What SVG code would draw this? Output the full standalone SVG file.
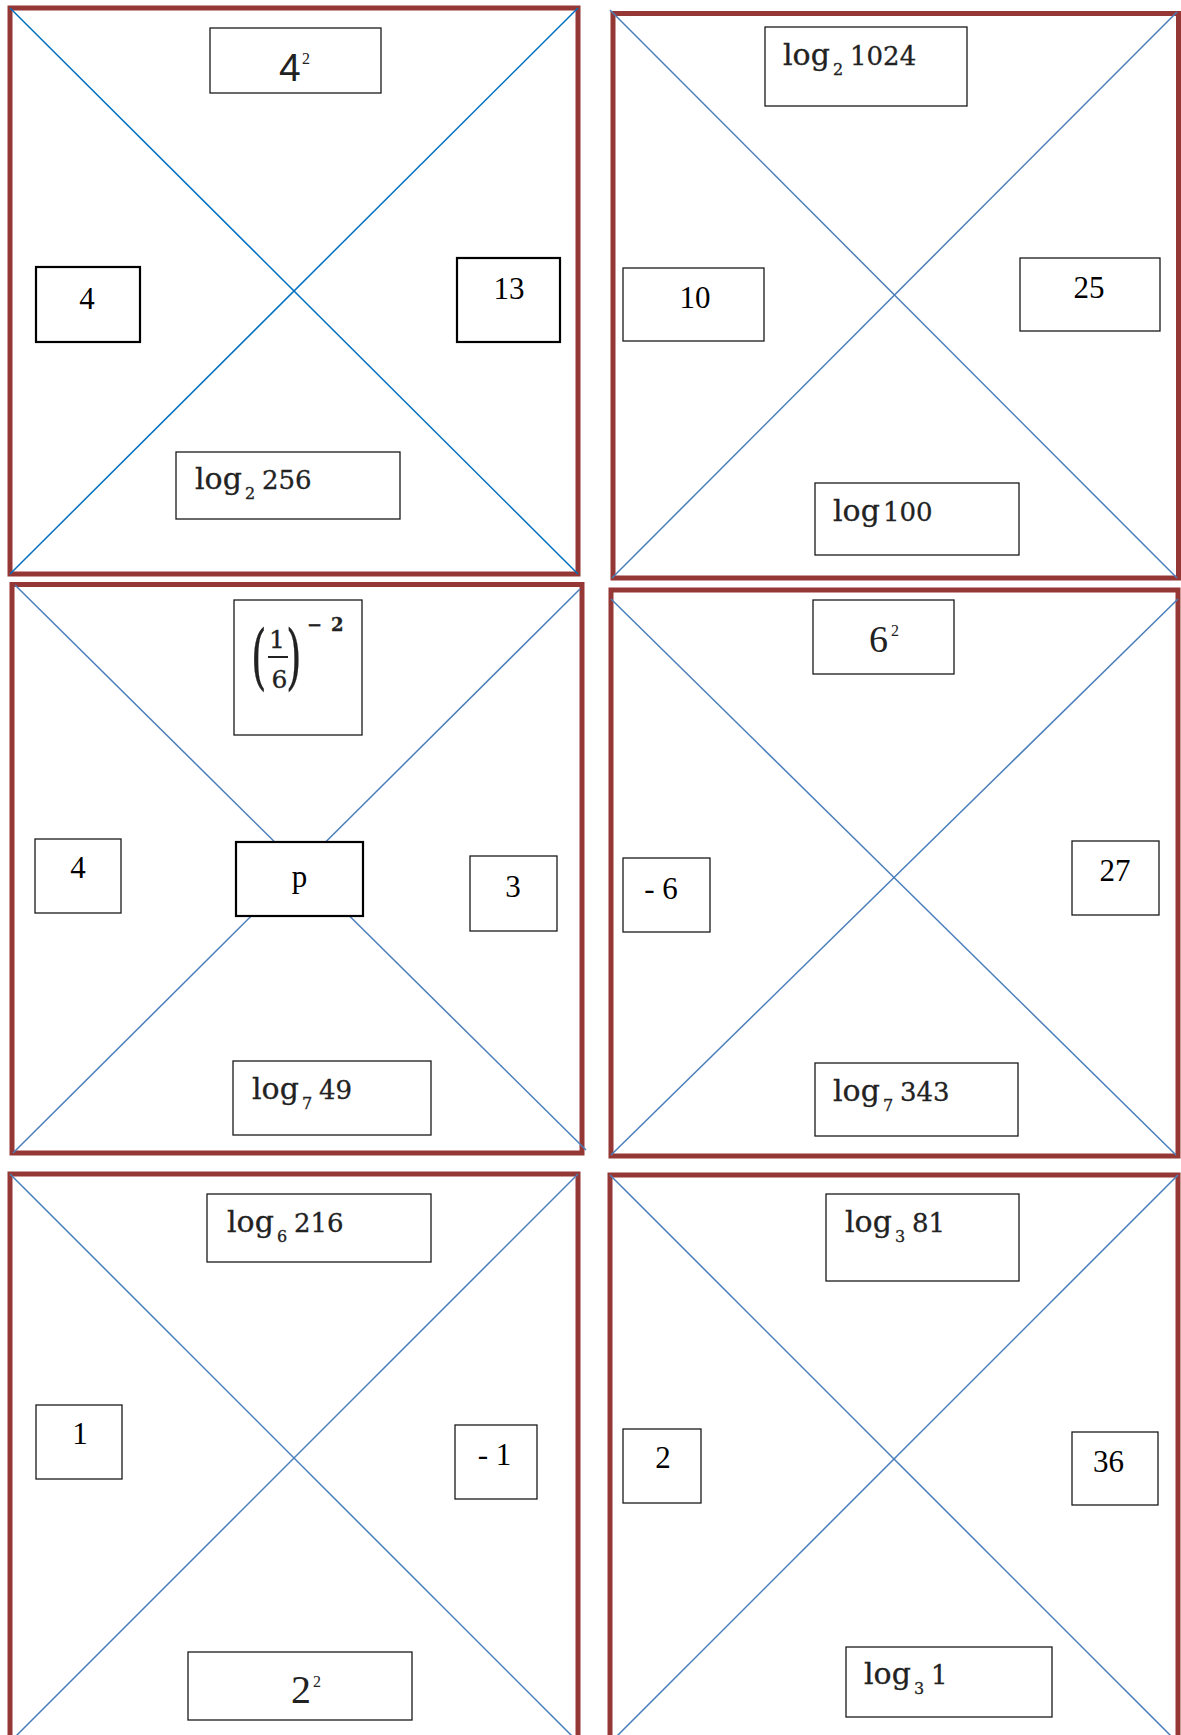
<svg xmlns="http://www.w3.org/2000/svg" width="1181" height="1735" viewBox="0 0 1181 1735">
<style>
.frame{fill:none;stroke:#953735;stroke-width:5}
.d1{stroke:#0070C0;stroke-width:1.5}
.d{stroke:#4A7EBB;stroke-width:1.5}
.b{fill:#fff;stroke:#1a1a1a;stroke-width:1.3}
.bt{fill:#fff;stroke:#000;stroke-width:2.2}
.n{font-family:"Liberation Serif","Times New Roman",serif;font-size:31px;fill:#000;text-anchor:middle}
.m{font-family:"DejaVu Serif",serif;font-size:30px;fill:#222;stroke:#222;stroke-width:0.3}
.mn{font-size:26px}
.ms{font-family:"DejaVu Serif",serif;font-size:16px;fill:#222}
.big{font-family:"Liberation Serif",serif;font-size:38px;fill:#222}
.sup{font-family:"Liberation Serif",serif;font-size:16px;fill:#222}
</style>
<rect width="1181" height="1735" fill="#fff"/>
<g id="frames">
<rect class="frame" x="10" y="8" width="568" height="566"/>
<rect class="frame" x="613" y="13.5" width="565.5" height="564.5"/>
<rect class="frame" x="12" y="584.5" width="570" height="568.5"/>
<rect class="frame" x="611" y="590" width="567" height="566"/>
<rect class="frame" x="10" y="1174" width="568" height="600"/>
<rect class="frame" x="610" y="1175" width="568" height="600"/>
</g>
<g id="connectors">
<line class="d1" x1="10" y1="8" x2="578" y2="574"/>
<line class="d1" x1="578" y1="8" x2="10" y2="574"/>
<line class="d" x1="610" y1="10" x2="1177" y2="578"/>
<line class="d" x1="1177" y1="12" x2="612" y2="578"/>
<line class="d" x1="15" y1="585" x2="586" y2="1150"/>
<line class="d" x1="580" y1="589" x2="13" y2="1153"/>
<line class="d" x1="611" y1="599" x2="1176" y2="1155"/>
<line class="d" x1="1178" y1="599" x2="611" y2="1155"/>
<line class="d" x1="10" y1="1174" x2="578" y2="1742"/>
<line class="d" x1="578" y1="1174" x2="10" y2="1742"/>
<line class="d" x1="610" y1="1175" x2="1178" y2="1743"/>
<line class="d" x1="1178" y1="1175" x2="610" y2="1743"/>
</g>
<!-- Panel 1 -->
<g id="p1-top">
<rect class="b" x="210" y="28" width="171" height="65"/>
<text x="279" y="81" style="font-family:'Liberation Sans',Arial,sans-serif;font-size:39px;fill:#222">4<tspan class="sup" x="302" y="64">2</tspan></text>
</g>
<g id="p1-left">
<rect class="bt" x="36" y="267" width="104" height="75"/>
<text class="n" x="87" y="309">4</text>
</g>
<g id="p1-right">
<rect class="bt" x="457" y="258" width="103" height="84"/>
<text class="n" x="509" y="299">13</text>
</g>
<g id="p1-bottom">
<rect class="b" x="176" y="452" width="224" height="67"/>
<text class="m" x="195" y="489">log<tspan class="ms" x="245" y="499">2</tspan><tspan class="mn" x="262" y="489">256</tspan></text>
</g>
<!-- Panel 2 -->
<g id="p2-top">
<rect class="b" x="765" y="27" width="202" height="79"/>
<text class="m" x="783" y="65">log<tspan class="ms" x="833" y="75">2</tspan><tspan class="mn" x="850" y="65">1024</tspan></text>
</g>
<g id="p2-left">
<rect class="b" x="623" y="268" width="141" height="73"/>
<text class="n" x="695" y="308">10</text>
</g>
<g id="p2-right">
<rect class="b" x="1020" y="258" width="140" height="73"/>
<text class="n" x="1089" y="298">25</text>
</g>
<g id="p2-bottom">
<rect class="b" x="815" y="483" width="204" height="72"/>
<text class="m" x="833" y="521">log<tspan class="mn" x="883" y="521">100</tspan></text>
</g>
<!-- Panel 3 -->
<g id="p3-top">
<rect class="b" x="234" y="600" width="128" height="135"/>
<text class="m" transform="translate(251,681) scale(1,1.77)" style="font-size:40px;stroke-width:0.2">(</text>
<text class="m" x="277" y="648" style="font-size:25px;text-anchor:middle">1</text>
<line x1="268" y1="657" x2="288" y2="657" stroke="#222" stroke-width="2"/>
<text class="m" x="279.5" y="688" style="font-size:25px;text-anchor:middle">6</text>
<text class="m" transform="translate(286,681) scale(1,1.77)" style="font-size:40px;stroke-width:0.2">)</text>
<text class="m" x="307" y="631" style="font-size:18px;font-weight:bold">−<tspan x="331">2</tspan></text>
</g>
<g id="p3-left">
<rect class="b" x="35" y="839" width="86" height="74"/>
<text class="n" x="78" y="878">4</text>
</g>
<g id="p3-center">
<rect class="bt" x="236" y="842" width="127" height="74"/>
<text class="n" x="299.5" y="887">p</text>
</g>
<g id="p3-right">
<rect class="b" x="470" y="856" width="87" height="75"/>
<text class="n" x="513" y="897">3</text>
</g>
<g id="p3-bottom">
<rect class="b" x="233" y="1061" width="198" height="74"/>
<text class="m" x="252" y="1099">log<tspan class="ms" x="302" y="1109">7</tspan><tspan class="mn" x="319" y="1099">49</tspan></text>
</g>
<!-- Panel 4 -->
<g id="p4-top">
<rect class="b" x="813" y="600" width="141" height="74"/>
<text class="big" x="869" y="652">6<tspan class="sup" x="891" y="636">2</tspan></text>
</g>
<g id="p4-left">
<rect class="b" x="623" y="858" width="87" height="74"/>
<text class="n" x="661" y="899">- 6</text>
</g>
<g id="p4-right">
<rect class="b" x="1072" y="841" width="87" height="74"/>
<text class="n" x="1115" y="881">27</text>
</g>
<g id="p4-bottom">
<rect class="b" x="815" y="1063" width="203" height="73"/>
<text class="m" x="833" y="1101">log<tspan class="ms" x="883" y="1111">7</tspan><tspan class="mn" x="900" y="1101">343</tspan></text>
</g>
<!-- Panel 5 -->
<g id="p5-top">
<rect class="b" x="207" y="1194" width="224" height="68"/>
<text class="m" x="227" y="1232">log<tspan class="ms" x="277" y="1242">6</tspan><tspan class="mn" x="294" y="1232">216</tspan></text>
</g>
<g id="p5-left">
<rect class="b" x="36" y="1405" width="86" height="74"/>
<text class="n" x="80" y="1444">1</text>
</g>
<g id="p5-right">
<rect class="b" x="455" y="1425" width="82" height="74"/>
<text class="n" x="494.5" y="1465">- 1</text>
</g>
<g id="p5-bottom">
<rect class="b" x="188" y="1652" width="224" height="68"/>
<text class="big" x="291" y="1703" style="font-size:40px">2<tspan class="sup" x="313" y="1687">2</tspan></text>
</g>
<!-- Panel 6 -->
<g id="p6-top">
<rect class="b" x="826" y="1194" width="193" height="87"/>
<text class="m" x="845" y="1232">log<tspan class="ms" x="895" y="1242">3</tspan><tspan class="mn" x="912" y="1232">81</tspan></text>
</g>
<g id="p6-left">
<rect class="b" x="623" y="1429" width="78" height="74"/>
<text class="n" x="663" y="1468">2</text>
</g>
<g id="p6-right">
<rect class="b" x="1072" y="1432" width="86" height="73"/>
<text class="n" x="1108.5" y="1472">36</text>
</g>
<g id="p6-bottom">
<rect class="b" x="846" y="1647" width="206" height="70"/>
<text class="m" x="864" y="1684">log<tspan class="ms" x="914" y="1694">3</tspan><tspan class="mn" x="931" y="1684">1</tspan></text>
</g>
</svg>
